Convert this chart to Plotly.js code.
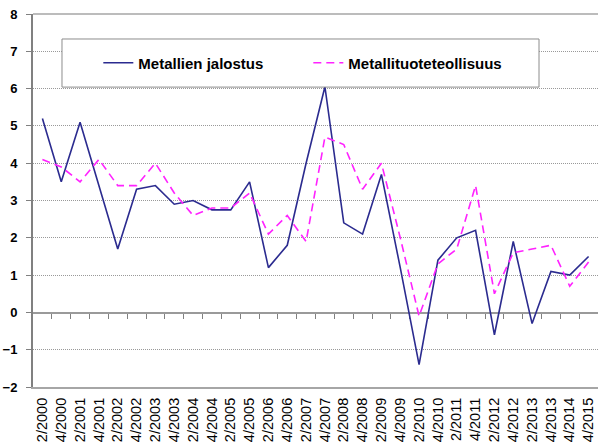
<!DOCTYPE html>
<html>
<head>
<meta charset="utf-8">
<script src="https://cdn.plot.ly/plotly-3.0.1.min.js"></script>
<style>html,body{margin:0;padding:0;background:#fff;overflow:hidden;}#chart{width:598px;height:443px;}</style>
</head>
<body>
<div id="chart"></div>
<script>
var categories = ["2/2000","4/2000","2/2001","4/2001","2/2002","4/2002","2/2003","4/2003","2/2004","4/2004",
  "2/2005","4/2005","2/2006","4/2006","2/2007","4/2007","2/2008","4/2008","2/2009","4/2009",
  "2/2010","4/2010","2/2011","4/2011","2/2012","4/2012","2/2013","4/2013","4/2014","4/2015"];
var seriesNames = ["Metallien jalostus", "Metallituoteteollisuus"];
var metallienJalostus = [5.2,3.5,5.1,3.4,1.7,3.3,3.4,2.9,3.0,2.75,
  2.75,3.5,1.2,1.8,4.0,6.05,2.4,2.1,3.7,1.2,
  -1.4,1.4,2.0,2.2,-0.6,1.9,-0.3,1.1,1.0,1.5];
var metallituoteteollisuus = [4.1,3.9,3.5,4.1,3.4,3.4,4.0,3.2,2.6,2.8,
  2.8,3.2,2.1,2.6,1.9,4.7,4.5,3.3,4.0,2.0,
  -0.1,1.3,1.7,3.4,0.5,1.6,1.7,1.8,0.7,1.35];
var yTicks = [-2,-1,0,1,2,3,4,5,6,7,8];

var font = "Liberation Sans, Arial, sans-serif";
var boundaries = categories.slice(1).map(function(c, i){ return i + 0.5; });

var data = [
  {x: categories, y: metallienJalostus, name: seriesNames[0], type: "scatter", mode: "lines",
   line: {color: "#2B2B8F", width: 1.6}},
  {x: categories, y: metallituoteteollisuus, name: seriesNames[1], type: "scatter", mode: "lines",
   line: {color: "#FF22FF", width: 1.6, dash: "8px,5px"}},
  {x: [], y: [], xaxis: "x2", yaxis: "y", showlegend: false, hoverinfo: "skip", type: "scatter"}
];

var layout = {
  width: 598, height: 443,
  margin: {l: 33, r: 0, t: 14, b: 56},
  paper_bgcolor: "#ffffff", plot_bgcolor: "#ffffff",
  font: {family: font, color: "#000"},
  showlegend: true,
  legend: {orientation: "h", x: 0.1156, xanchor: "left", y: 0.8686, yanchor: "middle",
    bgcolor: "rgba(0,0,0,0)", borderwidth: 0,
    font: {family: font, size: 15, color: "#000", weight: "bold"},
    entrywidth: 165, entrywidthmode: "pixels", traceorder: "normal"},
  xaxis: {type: "category", categoryarray: categories, categoryorder: "array",
    range: [-0.5, categories.length - 0.5],
    showgrid: false, zeroline: false, showline: true, mirror: false, linecolor: "#A6A6A6", linewidth: 2,
    ticks: "", tickangle: -90, tickfont: {family: font, size: 14.5, color: "#000"}, ticklabelstandoff: 3},
  xaxis2: {overlaying: "x", anchor: "free", position: 0.2, type: "linear",
    range: [-0.5, categories.length - 0.5], showgrid: false, zeroline: false,
    showline: true, linecolor: "#9A9A9A", linewidth: 1.5, layer: "below traces",
    ticks: "outside", ticklen: 5, tickwidth: 1, tickcolor: "#808080",
    tickmode: "array", tickvals: boundaries, showticklabels: false},
  yaxis: {range: [-2, 8], tickmode: "array", tickvals: yTicks, mirror: false,
    showgrid: true, gridcolor: "#999999", griddash: "1px,1px", gridwidth: 1,
    zeroline: false, showline: true, linecolor: "#808080", linewidth: 2,
    ticks: "outside", ticklen: 5, tickcolor: "#808080", ticklabelstandoff: 6,
    tickfont: {family: font, size: 13, color: "#000", weight: "bold"}},
  shapes: [
    {type: "line", xref: "paper", yref: "paper", x0: 0, x1: 1, y0: 1, y1: 1,
     line: {color: "#A6A6A6", width: 1.5}, layer: "above"},
    {type: "rect", xref: "paper", yref: "paper", x0: 0.0513, x1: 0.8956, y0: 0.804, y1: 0.933,
     fillcolor: "#ffffff", line: {color: "#8C8C8C", width: 1}, layer: "above"}
  ]
};

Plotly.newPlot("chart", data, layout, {displayModeBar: false, staticPlot: true});
</script>
</body>
</html>
